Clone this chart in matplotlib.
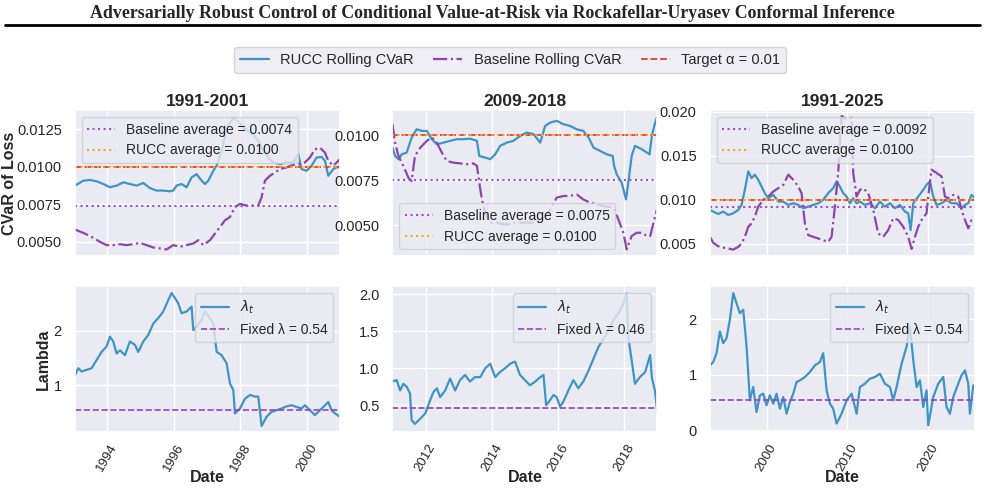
import numpy as np
import pandas as pd
import matplotlib
matplotlib.use("Agg")
import matplotlib.pyplot as plt
import matplotlib.dates as mdates
from matplotlib.lines import Line2D
import seaborn as sns

sns.set_theme(style="darkgrid")
plt.rcParams['font.family'] = ['Liberation Sans', 'DejaVu Sans']

# ---------------- data ----------------
titles = ["1991-2001", "2009-2018", "1991-2025"]
target_alpha = 0.01
baseline_avg = [0.0074, 0.0075, 0.0092]
rucc_avg = [0.0100, 0.0100, 0.0100]
fixed_lambda = [0.54, 0.46, 0.54]

# Panel 1 (1991-2001)
p1_rucc_t = [1993.04, 1993.29, 1993.49, 1993.69, 1993.89, 1994.09, 1994.29, 1994.49, 1994.69, 1994.89,
             1995.09, 1995.29, 1995.49, 1995.69, 1995.89, 1995.99, 1996.09, 1996.24, 1996.39, 1996.54,
             1996.69, 1996.84, 1996.94, 1997.04, 1997.19, 1997.29, 1997.44, 1997.59, 1997.79, 1997.94,
             1998.09, 1998.24, 1998.39, 1998.54, 1998.69, 1998.84, 1998.99, 1999.19, 1999.39, 1999.59,
             1999.74, 1999.84, 1999.99, 2000.14, 2000.29, 2000.44, 2000.54, 2000.64, 2000.79, 2000.89, 2000.99]
p1_rucc_v = [0.00874, 0.00907, 0.00912, 0.00903, 0.00885, 0.00863, 0.00874, 0.00896, 0.00885, 0.00874,
             0.00892, 0.00858, 0.00841, 0.00841, 0.00836, 0.00841, 0.00874, 0.00885, 0.00863, 0.00929,
             0.00951, 0.00907, 0.00885, 0.00907, 0.00973, 0.01007, 0.01106, 0.01261, 0.01327, 0.01305,
             0.01261, 0.01239, 0.01217, 0.01173, 0.01106, 0.01062, 0.01029, 0.01018, 0.01029, 0.01029,
             0.01084, 0.00985, 0.00973, 0.01007, 0.01062, 0.01066, 0.01040, 0.00940, 0.00985, 0.00996, 0.01000]
p1_base_t = [1993.04, 1993.29, 1993.54, 1993.79, 1993.99, 1994.19, 1994.39, 1994.59, 1994.79, 1994.99,
             1995.19, 1995.39, 1995.59, 1995.79, 1995.99, 1996.19, 1996.39, 1996.59, 1996.74, 1996.89,
             1997.09, 1997.24, 1997.39, 1997.54, 1997.69, 1997.84, 1997.99, 1998.19, 1998.39, 1998.54,
             1998.64, 1998.74, 1998.89, 1999.04, 1999.19, 1999.39, 1999.59, 1999.79, 1999.94, 2000.09,
             2000.24, 2000.39, 2000.54, 2000.64, 2000.79, 2000.89, 2000.99]
p1_base_v = [0.00580, 0.00558, 0.00531, 0.00498, 0.00476, 0.00476, 0.00482, 0.00476, 0.00482, 0.00491,
             0.00476, 0.00460, 0.00454, 0.00447, 0.00476, 0.00465, 0.00476, 0.00487, 0.00509, 0.00476,
             0.00509, 0.00553, 0.00597, 0.00642, 0.00664, 0.00730, 0.00752, 0.00741, 0.00741, 0.00741,
             0.00796, 0.00907, 0.00940, 0.00962, 0.00985, 0.00996, 0.01013, 0.01018, 0.01029, 0.01062,
             0.01117, 0.01128, 0.01095, 0.01040, 0.01007, 0.01029, 0.01051]
p1_lam_t = [1993.04, 1993.14, 1993.24, 1993.39, 1993.54, 1993.69, 1993.84, 1993.99, 1994.09, 1994.19,
            1994.29, 1994.39, 1994.54, 1994.69, 1994.84, 1994.94, 1995.09, 1995.24, 1995.39, 1995.54,
            1995.69, 1995.84, 1995.94, 1996.04, 1996.14, 1996.24, 1996.39, 1996.54, 1996.59, 1996.69,
            1996.84, 1996.94, 1997.09, 1997.19, 1997.29, 1997.44, 1997.59, 1997.69, 1997.79, 1997.84,
            1997.99, 1998.14, 1998.29, 1998.44, 1998.54, 1998.64, 1998.79, 1998.94, 1999.09, 1999.24,
            1999.39, 1999.54, 1999.69, 1999.84, 1999.94, 2000.09, 2000.24, 2000.34, 2000.49, 2000.64,
            2000.74, 2000.84, 2000.99]
p1_lam_v = [1.18, 1.31, 1.25, 1.28, 1.31, 1.46, 1.61, 1.71, 1.89, 1.80,
            1.58, 1.64, 1.55, 1.80, 1.74, 1.61, 1.80, 1.92, 2.13, 2.23,
            2.35, 2.56, 2.69, 2.60, 2.50, 2.32, 2.35, 2.44, 2.01, 2.07,
            2.20, 2.35, 2.23, 2.13, 1.61, 1.55, 1.40, 1.03, 0.91, 0.48,
            0.57, 0.75, 0.82, 0.79, 0.79, 0.25, 0.42, 0.51, 0.54, 0.57,
            0.61, 0.63, 0.60, 0.57, 0.63, 0.54, 0.45, 0.51, 0.60, 0.69,
            0.54, 0.48, 0.42]

# Panel 2 (2009-2018)
p2_rucc_t = [2011.00, 2011.08, 2011.18, 2011.28, 2011.43, 2011.58, 2011.73, 2011.89, 2012.04, 2012.19,
             2012.34, 2012.54, 2012.74, 2012.94, 2013.14, 2013.34, 2013.55, 2013.62, 2013.80, 2013.95,
             2014.10, 2014.25, 2014.45, 2014.65, 2014.85, 2015.05, 2015.26, 2015.46, 2015.61, 2015.76,
             2015.96, 2016.16, 2016.36, 2016.56, 2016.76, 2016.92, 2017.07, 2017.27, 2017.47, 2017.65,
             2017.69, 2017.77, 2017.92, 2018.05, 2018.12, 2018.22, 2018.32, 2018.53, 2018.68, 2018.76,
             2018.83, 2018.93, 2019.00]
p2_rucc_v = [0.00931, 0.00885, 0.00867, 0.00894, 0.00904, 0.00987, 0.01033, 0.01024, 0.01024, 0.00978,
             0.00950, 0.00959, 0.00969, 0.00978, 0.00978, 0.00981, 0.00969, 0.00885, 0.00876, 0.00867,
             0.00894, 0.00941, 0.00959, 0.00969, 0.00996, 0.01015, 0.01006, 0.00959, 0.01052, 0.01070,
             0.01080, 0.01061, 0.01052, 0.01033, 0.01024, 0.00987, 0.00931, 0.00913, 0.00894, 0.00885,
             0.00830, 0.00783, 0.00737, 0.00644, 0.00737, 0.00885, 0.00941, 0.00922, 0.00904, 0.00894,
             0.00996, 0.01070, 0.01107]
p2_base_t = [2011.00, 2011.08, 2011.18, 2011.33, 2011.48, 2011.58, 2011.68, 2011.84, 2012.04, 2012.19,
             2012.34, 2012.49, 2012.64, 2012.84, 2013.04, 2013.24, 2013.44, 2013.55, 2013.62, 2013.70,
             2013.80, 2013.95, 2014.15, 2014.35, 2014.55, 2014.75, 2014.95, 2015.15, 2015.36, 2015.56,
             2015.76, 2015.96, 2016.16, 2016.36, 2016.56, 2016.76, 2016.97, 2017.17, 2017.37, 2017.67,
             2017.82, 2017.97, 2018.07, 2018.22, 2018.37, 2018.53, 2018.68, 2018.78, 2018.88, 2019.00]
p2_base_v = [0.01061, 0.00959, 0.00885, 0.00830, 0.00765, 0.00746, 0.00885, 0.00931, 0.00969, 0.00987,
             0.00959, 0.00904, 0.00857, 0.00848, 0.00844, 0.00839, 0.00844, 0.00830, 0.00737, 0.00644,
             0.00570, 0.00515, 0.00515, 0.00506, 0.00506, 0.00515, 0.00515, 0.00515, 0.00515, 0.00533,
             0.00589, 0.00654, 0.00663, 0.00663, 0.00672, 0.00644, 0.00626, 0.00617, 0.00607, 0.00598,
             0.00533, 0.00459, 0.00367, 0.00441, 0.00459, 0.00459, 0.00441, 0.00441, 0.00515, 0.00598]
p2_lam_t = [2011.00, 2011.13, 2011.23, 2011.33, 2011.43, 2011.53, 2011.58, 2011.68, 2011.84, 2011.99,
            2012.14, 2012.24, 2012.34, 2012.44, 2012.59, 2012.74, 2012.89, 2013.04, 2013.19, 2013.34,
            2013.49, 2013.65, 2013.80, 2013.95, 2014.10, 2014.25, 2014.40, 2014.55, 2014.70, 2014.85,
            2015.00, 2015.15, 2015.31, 2015.46, 2015.56, 2015.64, 2015.76, 2015.86, 2015.96, 2016.06,
            2016.16, 2016.31, 2016.46, 2016.61, 2016.76, 2016.92, 2017.07, 2017.22, 2017.37, 2017.52,
            2017.67, 2017.82, 2017.97, 2018.07, 2018.12, 2018.22, 2018.32, 2018.47, 2018.63, 2018.78,
            2018.83, 2018.93, 2019.00]
p2_lam_v = [0.82, 0.84, 0.70, 0.79, 0.75, 0.66, 0.30, 0.25, 0.32, 0.39,
            0.57, 0.68, 0.73, 0.61, 0.70, 0.86, 0.70, 0.84, 0.91, 0.82,
            0.88, 0.88, 1.00, 1.06, 0.88, 0.95, 1.00, 1.06, 1.09, 0.91,
            0.84, 0.77, 0.82, 0.88, 0.91, 0.50, 0.57, 0.64, 0.61, 0.48,
            0.55, 0.70, 0.84, 0.73, 0.82, 0.97, 1.13, 1.29, 1.40, 1.51,
            1.65, 1.74, 1.87, 2.01, 1.42, 1.11, 0.79, 0.88, 0.95, 1.18,
            0.88, 0.68, 0.39]

# Panel 3 (1991-2025)
p3_rucc_t = [1992.98, 1993.39, 1994.01, 1994.63, 1995.25, 1995.87, 1996.49, 1996.90, 1997.31, 1997.73,
             1998.14, 1998.55, 1998.97, 1999.38, 1999.79, 2000.21, 2000.83, 2001.45, 2002.07, 2002.69,
             2003.31, 2003.93, 2004.55, 2005.17, 2005.79, 2006.40, 2007.02, 2007.64, 2008.26, 2008.68,
             2009.09, 2009.50, 2009.92, 2010.33, 2010.74, 2011.16, 2011.57, 2012.19, 2012.81, 2013.43,
             2014.05, 2014.67, 2015.29, 2015.91, 2016.53, 2017.15, 2017.56, 2017.85, 2018.18, 2018.80,
             2019.42, 2019.83, 2020.25, 2020.66, 2021.07, 2021.69, 2022.31, 2022.93, 2023.55, 2024.17,
             2024.59, 2025.00, 2025.41, 2025.83]
p3_rucc_v = [0.00886, 0.00867, 0.00840, 0.00867, 0.00829, 0.00848, 0.00886, 0.00943, 0.01114, 0.01324,
             0.01248, 0.01286, 0.01228, 0.01152, 0.01076, 0.01019, 0.01057, 0.00981, 0.00981, 0.00943,
             0.00962, 0.00943, 0.00905, 0.00924, 0.00943, 0.00962, 0.01000, 0.01076, 0.01133, 0.01209,
             0.01152, 0.01076, 0.01038, 0.00962, 0.01019, 0.00962, 0.00981, 0.00943, 0.00962, 0.00905,
             0.00981, 0.00924, 0.00962, 0.00905, 0.00943, 0.00867, 0.00848, 0.00657, 0.00962, 0.01038,
             0.01114, 0.01171, 0.01209, 0.01038, 0.00943, 0.00962, 0.01000, 0.00962, 0.00962, 0.00905,
             0.00943, 0.00962, 0.01057, 0.01019]
p3_base_t = [1992.98, 1993.39, 1994.01, 1994.63, 1995.25, 1995.87, 1996.49, 1996.90, 1997.31, 1997.73,
             1998.14, 1998.55, 1998.97, 1999.59, 2000.21, 2000.83, 2001.45, 2002.07, 2002.69, 2003.31,
             2003.93, 2004.34, 2004.75, 2005.17, 2005.79, 2006.40, 2007.02, 2007.64, 2008.06, 2008.47,
             2008.88, 2009.30, 2009.92, 2010.54, 2010.74, 2011.16, 2011.57, 2011.98, 2012.60, 2013.22,
             2013.84, 2014.46, 2015.08, 2015.70, 2016.32, 2016.94, 2017.56, 2017.98, 2018.39, 2018.80,
             2019.21, 2019.83, 2020.25, 2020.45, 2021.07, 2021.69, 2022.11, 2022.52, 2023.14, 2023.76,
             2024.17, 2024.59, 2025.00, 2025.41, 2025.83]
p3_base_v = [0.00581, 0.00513, 0.00474, 0.00459, 0.00448, 0.00436, 0.00467, 0.00505, 0.00581, 0.00695,
             0.00733, 0.00810, 0.00924, 0.01000, 0.01038, 0.01095, 0.01133, 0.01171, 0.01286, 0.01228,
             0.01152, 0.01076, 0.00733, 0.00600, 0.00581, 0.00562, 0.00543, 0.00524, 0.00581, 0.00924,
             0.01305, 0.01952, 0.01914, 0.01933, 0.01305, 0.01038, 0.01114, 0.01133, 0.01076, 0.00886,
             0.00619, 0.00581, 0.00657, 0.00791, 0.00772, 0.00695, 0.00581, 0.00443, 0.00581, 0.00695,
             0.00772, 0.00848, 0.01209, 0.01343, 0.01305, 0.01267, 0.01038, 0.01019, 0.01057, 0.01038,
             0.00886, 0.00772, 0.00676, 0.00772, 0.00791]
p3_lam_t = [1992.98, 1993.39, 1993.80, 1994.21, 1994.63, 1995.04, 1995.45, 1995.87, 1996.28, 1996.69,
            1997.11, 1997.52, 1997.73, 1997.93, 1998.35, 1998.76, 1999.17, 1999.59, 2000.00, 2000.41,
            2000.83, 2001.24, 2001.65, 2002.07, 2002.48, 2002.89, 2003.31, 2003.72, 2004.13, 2004.75,
            2005.37, 2005.99, 2006.61, 2007.02, 2007.44, 2007.85, 2008.26, 2008.68, 2009.30, 2009.92,
            2010.54, 2011.16, 2011.57, 2012.19, 2012.81, 2013.43, 2014.05, 2014.67, 2015.29, 2015.70,
            2016.12, 2016.74, 2017.36, 2017.77, 2018.18, 2018.60, 2019.01, 2019.42, 2019.83, 2020.04,
            2020.66, 2021.28, 2021.90, 2022.31, 2022.73, 2023.14, 2023.76, 2024.17, 2024.59, 2025.00,
            2025.21, 2025.62, 2025.83]
p3_lam_v = [1.17, 1.23, 1.39, 1.78, 1.57, 1.66, 1.99, 2.47, 2.29, 2.11,
            2.17, 1.51, 1.02, 0.54, 0.78, 0.33, 0.63, 0.66, 0.45, 0.63,
            0.48, 0.66, 0.39, 0.60, 0.30, 0.51, 0.66, 0.87, 0.90, 0.96,
            1.05, 1.17, 1.23, 1.39, 0.72, 0.48, 0.39, 0.12, 0.30, 0.54,
            0.66, 0.30, 0.78, 0.84, 0.93, 0.96, 1.02, 0.84, 0.78, 0.54,
            0.78, 1.20, 1.51, 1.87, 1.27, 0.78, 0.90, 0.42, 0.72, 0.09,
            0.60, 0.84, 0.96, 0.42, 0.30, 0.60, 0.84, 0.99, 1.08, 0.84,
            0.30, 0.81, 0.78]

cvar_series = [(p1_rucc_t, p1_rucc_v, p1_base_t, p1_base_v),
               (p2_rucc_t, p2_rucc_v, p2_base_t, p2_base_v),
               (p3_rucc_t, p3_rucc_v, p3_base_t, p3_base_v)]
lam_series = [(p1_lam_t, p1_lam_v), (p2_lam_t, p2_lam_v), (p3_lam_t, p3_lam_v)]


def to_dates(years):
    out = []
    for y in years:
        yi = int(np.floor(y))
        start = pd.Timestamp(year=yi, month=1, day=1)
        end = pd.Timestamp(year=yi + 1, month=1, day=1)
        out.append(start + (end - start) * (y - yi))
    return pd.to_datetime(out)


# ---------------- style ----------------
C_RUCC = '#3f94c4'
C_BASE = '#8e44ad'
C_TARGET = '#e03b3b'
C_RAVG = '#f5a623'
C_BAVG = '#9b50c8'
C_FIX = '#9b40c0'

fig, axes = plt.subplots(2, 3, figsize=(9.85, 4.9), dpi=100)
fig.subplots_adjust(left=0.0761, right=0.9898, top=0.7755, bottom=0.1184,
                    wspace=0.198, hspace=0.205)

cvar_ylims = [(0.00403, 0.0138), (0.00330, 0.0114), (0.00363, 0.0202)]
cvar_yticks = [[0.0050, 0.0075, 0.0100, 0.0125], [0.0050, 0.0075, 0.0100], [0.005, 0.010, 0.015, 0.020]]
lam_ylims = [(0.14, 2.82), (0.14, 2.11), (-0.03, 2.6)]
lam_yticks = [[1, 2], [0.5, 1.0, 1.5, 2.0], [0, 1, 2]]
leg_locs = ['upper left', 'lower left', 'upper left']
year_steps = [2, 2, 10]

for i in range(3):
    rt, rv, bt, bv = cvar_series[i]
    ax = axes[0, i]
    rd, bd = to_dates(rt), to_dates(bt)
    h1, = ax.plot(rd, rv, color=C_RUCC, lw=1.6, label='RUCC Rolling CVaR')
    h2, = ax.plot(bd, bv, color=C_BASE, lw=1.6, ls='-.', label='Baseline Rolling CVaR')
    h3 = ax.axhline(target_alpha, color=C_TARGET, lw=1.3, ls='--', label='Target α = 0.01')
    hb = ax.axhline(baseline_avg[i], color=C_BAVG, lw=1.5, ls=':', label=f'Baseline average = {baseline_avg[i]:.4f}')
    hr = ax.axhline(rucc_avg[i], color=C_RAVG, lw=1.5, ls=':', label=f'RUCC average = {rucc_avg[i]:.4f}')
    ax.set_xlim(min(rd[0], bd[0]), max(rd[-1], bd[-1]))
    ax.set_ylim(*cvar_ylims[i])
    ax.set_yticks(cvar_yticks[i])
    ax.set_title(titles[i], fontsize=12.5, fontweight='bold', pad=3)
    ax.tick_params(axis='y', labelsize=10.5)
    ax.tick_params(axis='x', labelbottom=False)
    ax.xaxis.set_major_locator(mdates.YearLocator(year_steps[i]))
    ax.legend(handles=[hb, hr], loc=leg_locs[i], fontsize=10)
    if i == 0:
        ax.set_ylabel('CVaR of Loss', fontsize=11.5, fontweight='bold', labelpad=0)
        top_handles = [h1, h2, h3]

    lt, lv = lam_series[i]
    ax2 = axes[1, i]
    ld = to_dates(lt)
    ax2.plot(ld, lv, color=C_RUCC, lw=1.6, label=r'$\lambda_t$')
    ax2.axhline(fixed_lambda[i], color=C_FIX, lw=1.2, ls='--', label=f'Fixed λ = {fixed_lambda[i]:.2f}')
    ax2.set_xlim(ld[0], ld[-1])
    ax2.set_ylim(*lam_ylims[i])
    ax2.set_yticks(lam_yticks[i])
    ax2.xaxis.set_major_locator(mdates.YearLocator(year_steps[i]))
    ax2.xaxis.set_major_formatter(mdates.DateFormatter('%Y'))
    ax2.tick_params(axis='y', labelsize=10.5)
    ax2.tick_params(axis='x', labelsize=9.5, pad=1)
    for lab in ax2.get_xticklabels():
        lab.set_rotation(60)
    ax2.set_xlabel('Date', fontsize=11.5, fontweight='bold')
    ax2.xaxis.set_label_coords(0.5, -0.262)
    ax2.legend(loc='upper right', fontsize=10)
    if i == 0:
        ax2.set_ylabel('Lambda', fontsize=11.5, fontweight='bold', labelpad=2)

fig.suptitle('Adversarially Robust Control of Conditional Value-at-Risk via Rockafellar-Uryasev Conformal Inference',
             fontsize=12.9, fontweight='bold', family='Liberation Serif', y=0.99)
fig.add_artist(Line2D([0.005, 0.995], [0.949, 0.949], color='black', lw=2, transform=fig.transFigure))
fig.legend(handles=top_handles, loc='center', ncol=3, fontsize=10.5,
           bbox_to_anchor=(510 / 985, 1 - 60 / 490), columnspacing=1.3)

fig.savefig('out.png', dpi=100)
